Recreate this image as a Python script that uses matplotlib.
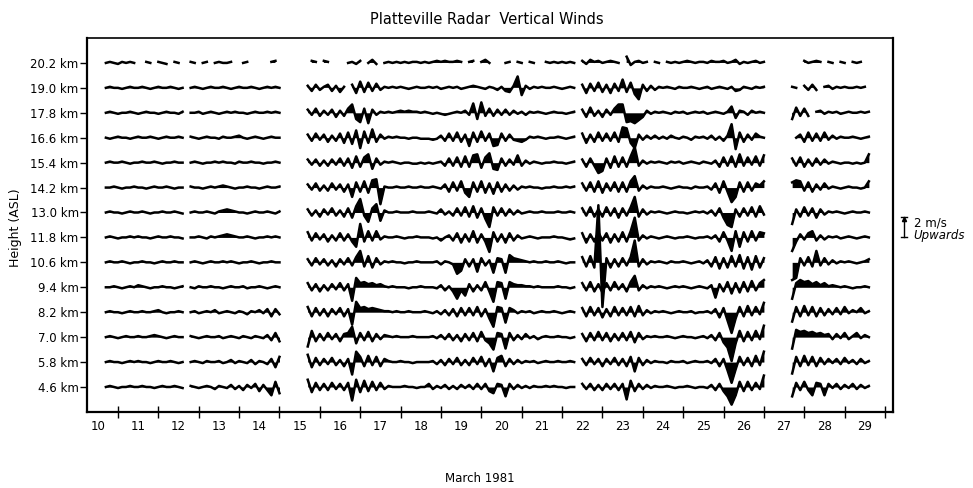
import numpy as np
import matplotlib
matplotlib.use("Agg")
import matplotlib.pyplot as plt

# heights of the range gates (km ASL), top to bottom
heights = [20.2, 19.0, 17.8, 16.6, 15.4, 14.2, 13.0, 11.8, 10.6, 9.4, 8.2, 7.0, 5.8, 4.6]
days = list(range(10, 30))          # March 1981, label sits in the middle of each day

# radar ran in 5 blocks; first sample of each block (day of March), samples every 0.1 day
run_start = [10.7, 12.8, 15.7, 22.5, 27.7]
dt = 0.1

# vertical wind per height, in tenths of m/s (upwards +), one list per block
N = None
w_202 = [[0,1,0,-1,1,0,1,0,N,N, 1,0,N,1,0,-1,N,1,0,N],
         [1,0,N,0,1,N,0,1,0,0, 1,N,N,0,1,N,N,N,N,N, 1,2,N],
         [N,2,1,N,2,1,N,N,N,N, 0,1,-1,2,N,0,3,-1,N,0, 1,0,1,0,1,0,1,1,0,1, 0,1,2,1,2,1,1,2,1,N,
          1,2,N,1,3,0,N,1,N,0, 1,N,1,0,N,1,0,N,N,1, 0,1,0,1,0,1,0],
         [2,-1,3,1,2,0,1,2,1,0, N,6,-2,1,2,0,1,N,1,0, N,1,0,1,0,1,2,1,0,1, 1,0,2,1,1,2,0,1,3,-1,
          1,0,1,2,0,1],
         [N,N,N,2,0,1,2,1,N,1, 0,N,1,0,N,1,0,1,N,N]]
w_190 = [[0,1,0,0,-1,0,1,0,0,1, 0,-1,0,1,0,0,1,0,-1,0],
         [0,1,0,-1,0,1,0,0,1,0, -1,0,1,0,0,1,0,-1,0,1, 0,1,0],
         [2,-3,3,-2,1,3,-3,2,-4,1, N,3,-5,6,-4,5,-3,4,-2,1, 0,1,0,1,0,-1,0,1,0,0, 1,0,1,-1,0,1,0,1,-1,0,
          1,2,1,0,-1,1,0,-2,1,-3, -4,2,11,-7,2,-1,1,0,1,0, 0,1,0,-1,0,1,0],
         [3,-5,4,-3,5,-4,3,-5,4,-3, 8,-4,5,-6,-11,3,-3,2,-2,1, 0,1,0,-1,1,0,0,1,0,-1, 0,1,-1,0,1,0,-1,1,-3,-2,
          1,0,-1,1,0,1],
         [1,0,N,2,-2,3,-2,N,1,2, -1,1,0,1,0,0,1,0,1,N]]
w_178 = [[0,1,0,-1,0,0,1,0,-1,0, 1,0,0,-1,0,1,0,0,-1,1],
         [0,0,1,-1,0,1,0,-1,0,1, 0,1,0,0,-1,0,1,0,0,1, 0,1,0],
         [3,-2,4,-3,2,-2,3,-4,2,-3, 4,8,-6,-9,4,-10,3,-2,1,0, 1,0,1,2,1,2,1,1,0,1, 0,-1,0,-1,-2,-1,0,1,0,2,
          -2,9,-6,10,-3,4,-3,3,-2,3, -2,2,-1,1,-2,1,0,1,0,-1, 0,1,0,0,-1,0,1],
         [3,-4,5,-3,2,-4,3,-2,4,8, 8,-9,-8,-10,-7,-4,2,-1,1,0, 1,0,-1,1,0,1,-1,0,1,0, 1,-1,0,1,0,-1,1,6,-5,2,
          1,-2,2,0,1,0],
         [-6,5,-3,4,-3,N,1,2,-1,1, 0,1,-1,0,1,0,0,1,0,1]]
w_166 = [[0,-1,0,1,0,0,-1,0,1,0, 0,1,0,-1,0,1,0,0,1,0],
         [1,0,-1,0,1,0,0,-1,1,0, 0,1,2,0,-1,0,1,0,-1,0, 1,0,0],
         [3,-3,4,-2,3,-4,2,-3,4,-5, 5,-6,7,-10,6,-5,8,-4,3,-1, 1,0,1,0,0,-1,0,0,-1,-1, -1,-2,-1,2,-3,4,-3,5,-4,3,
          -8,5,-4,6,-3,4,-8,-7,4,-3, 3,-2,-3,-4,-2,1,0,1,0,-1, 0,0,1,0,-1,0,1],
         [4,-5,3,-4,5,-3,4,-3,5,-4, 10,9,-5,-10,3,-2,2,-1,2,-1, 1,-1,2,0,-1,1,0,-2,1,0, 1,-1,2,-2,1,-3,2,13,-11,5,
          -4,3,-2,4,1,0],
         [N,0,3,-4,5,-3,4,-3,5,-2, 2,-1,1,0,0,1,0,-1,0,1]]
w_154 = [[0,1,0,0,1,0,-1,0,0,1, 0,0,1,0,-1,0,0,1,0,0],
         [0,1,0,-1,0,0,1,0,1,0, 0,-1,1,0,0,1,0,0,-1,0, 0,1,0],
         [3,-2,3,-3,2,-3,3,-2,4,-3, 4,-5,6,-4,5,8,-6,4,-2,1, 0,1,0,-1,0,0,-1,-1,0,-1, 0,-1,0,1,-3,4,-3,5,-4,6,
          -4,7,8,-5,5,9,-6,-7,4,-3, 3,-2,7,-3,2,-1,1,0,-1,0, 0,1,0,0,-1,0,1],
         [3,-4,4,-3,-10,-8,4,-5,6,-4, 5,-4,6,15,-3,2,-1,1,0,1, 0,-1,1,0,1,-1,0,1,0,-1, 1,0,-1,2,-4,5,-3,6,-4,8,
          -3,5,-2,6,-3,7],
         [4,-3,5,-4,3,-3,4,-2,3,-1, 1,0,-1,0,0,-1,0,-1,0,8]]
w_142 = [[0,0,1,0,-1,0,0,1,0,0, -1,0,1,0,0,1,0,-1,0,0],
         [1,0,0,-1,0,1,0,1,2,1, 0,-1,0,0,1,0,0,-1,0,1, 0,0,1],
         [3,-2,4,-3,2,-3,4,-2,3,-4, 3,-9,5,-4,6,-5,7,8,-16,1, 0,0,1,0,0,1,0,0,1,0, 0,1,0,-1,3,-4,5,-3,6,-5,
          -9,5,-4,6,-5,4,-6,5,-4,3, -3,2,-2,1,0,1,0,0,-1,0, 0,1,0,0,1,0,1],
         [4,-3,5,-4,6,-5,4,-3,5,-4, 5,-4,6,11,-3,2,-1,1,0,0, 1,0,-1,0,1,0,0,-1,1,0, 0,1,-2,4,-5,6,-4,-14,-9,5,
          -4,5,-3,4,2,6],
         [5,7,6,-3,5,-4,3,-2,4,-1, 1,0,-1,0,1,0,0,-1,0,6]]
w_130 = [[0,1,0,0,-1,0,1,0,0,1, 0,-1,0,0,1,0,0,1,0,-1],
         [0,1,0,0,1,0,-1,1,2,3, 2,1,0,0,-1,0,1,0,0,1, 0,-1,1],
         [3,-3,2,-4,3,-2,4,-3,2,-4, 4,-5,6,13,-3,-9,4,8,-8,2, 0,0,1,0,0,0,1,0,0,0, 1,0,-1,3,-2,1,-3,4,-3,5,
          -4,6,-5,4,-6,-14,5,-3,4,-3, 3,-2,2,-1,0,1,0,0,1,0, 0,0,1,0,0,1,0],
         [4,-3,5,-4,3,-4,5,-3,4,-5, 4,-3,5,15,-4,3,-2,1,0,1, 0,-1,0,1,0,0,-1,0,1,0, 1,-1,2,-3,4,-5,-12,-14,3,-4,
          4,-3,5,-4,6,-2],
         [-11,3,-4,5,-3,4,-5,3,-2,1, 0,1,0,-1,0,1,0,0,1,0]]
w_118 = [[0,1,0,-1,0,0,1,0,1,0, 0,-1,0,1,0,0,1,0,0,-1],
         [0,0,1,0,-1,1,0,1,2,3, 2,1,0,0,1,0,-1,0,0,1, 0,1,0],
         [5,-3,4,-2,3,-4,2,-3,4,-3, 3,-4,-9,13,-4,6,-3,6,-2,1, 0,0,1,0,-1,0,0,1,0,0, 0,-1,0,-3,0,2,-3,4,-5,3,
          -4,6,-5,3,-4,-14,5,-4,3,-5, 4,-3,2,-1,0,1,0,-1,0,0, 0,1,0,0,-1,-2,-1],
         [4,-5,3,-4,5,-3,4,-5,3,-4, 5,-4,6,19,-3,2,-1,1,0,-1, 0,1,0,-1,0,0,1,0,-1,0, 0,1,-1,2,-4,5,-3,-13,6,-9,
          5,-4,6,-3,5,4],
         [-13,-4,3,-2,4,6,-3,2,-2,1, 0,1,-1,0,1,0,-1,0,1,0]]
w_106 = [[0,1,0,0,1,0,-1,0,0,1, 0,0,-1,0,1,0,0,1,0,0],
         [0,1,0,-1,0,1,0,0,1,0, 1,0,-1,0,0,1,0,-1,0,0, 1,0,0],
         [3,-3,4,-2,3,-3,2,-4,3,-2, 4,-3,5,11,-4,6,-5,4,-2,1, 0,1,0,0,-1,0,0,1,0,0, 0,0,1,-2,1,0,-2,-11,-8,3,
          -4,3,-9,4,-3,2,-10,4,3,-10, 7,4,3,2,1,0,1,0,0,1, 0,0,1,0,-1,0,0],
         [5,-4,6,-5,55,-43,4,-5,3,-4, 4,-3,5,21,-4,3,-2,1,0,1, 0,-1,1,0,0,1,0,-1,0,1, -1,2,-4,5,-6,4,-5,6,-4,7,
          -6,5,-7,6,-5,4],
         [-17,-15,4,-3,5,-4,11,-3,4,-2, 2,-1,1,0,1,0,-1,0,1,3]]
w_094 = [[0,0,1,0,-1,0,1,0,2,1, 0,-1,0,0,1,0,0,-1,0,1],
         [0,-1,1,0,0,1,0,0,-1,0, 1,0,0,1,-1,0,0,1,0,-1, 0,1,0],
         [4,-3,3,-4,2,-3,3,-2,4,-3, 3,-13,9,4,5,3,4,2,3,1, 0,1,0,0,0,-1,0,0,1,0, 0,0,-1,2,-3,1,-4,-11,-3,-8,
          3,-4,2,-3,5,-4,-14,5,4,-11, 5,3,2,2,1,1,0,1,0,0, 0,0,1,0,0,-1,0],
         [4,-3,5,-4,3,-5,4,-3,5,-2, 3,-4,5,11,-3,2,-1,1,0,1, 0,-1,0,1,0,1,0,-1,0,1, 0,-1,2,-10,3,-4,5,-6,4,-5,
          5,-4,6,-3,4,7],
         [-11,4,7,5,6,3,5,2,4,1, 2,1,0,1,0,-1,0,0,1,0]]
w_082 = [[0,1,0,0,-1,0,1,0,0,1, 0,0,1,2,0,-1,0,0,1,0],
         [0,1,-1,0,1,0,2,-1,0,1, 0,-1,1,0,-2,1,0,2,-1,3, -4,3,-2],
         [5,-4,4,-3,3,-4,3,-2,4,-4, 3,-12,10,4,5,3,4,3,2,1, 1,0,1,0,0,1,0,0,0,1, 0,-1,1,-2,2,-3,3,-4,4,-3,
          4,-3,5,-4,3,-6,-14,5,4,-10, 4,2,-1,1,0,1,-1,0,1,0, 0,1,0,-1,0,1,0],
         [4,-4,5,-3,4,-5,3,-4,5,-3, 4,-3,5,-4,6,-3,2,-1,1,0, 1,0,-1,0,1,0,0,1,-1,0, 0,1,-1,3,-5,4,-8,-20,-6,5,
          -4,6,-3,5,-2,9],
         [-9,5,-4,6,-3,5,-4,4,-3,3, -2,4,-2,5,-1,2,0,4,-1,1]]
w_070 = [[0,1,0,-1,0,1,0,0,1,0, 0,1,2,1,0,-1,0,1,0,0],
         [1,0,-1,0,1,0,0,1,-1,0, 1,0,-1,1,0,-1,1,0,-1,2, -3,4,-4],
         [-9,6,-4,3,-3,4,-2,3,-4,3, 4,10,-6,4,-3,5,-4,3,-2,2, 1,0,1,0,0,0,1,0,0,0, 0,1,-1,2,-2,3,-3,2,-4,3,
          -3,4,-4,5,-3,-6,-12,4,3,-11, 4,-3,2,-2,3,-1,1,-2,0,1, 0,0,1,0,0,-1,0],
         [3,-4,4,-3,5,-3,4,-4,3,-3, 4,-3,5,-5,4,-2,1,0,1,0, 0,1,0,-1,0,1,0,0,-1,0, 1,-1,2,-3,4,-5,-10,-23,-6,6,
          -4,5,-3,6,-2,11],
         [-11,7,5,6,4,5,3,4,2,3, -2,3,-1,4,-2,1,4,-1,2,0]]
w_058 = [[0,1,0,0,-1,0,1,0,1,0, 0,-1,0,1,0,0,1,0,-1,0],
         [0,1,0,-1,1,0,0,1,-1,0, 2,-1,1,0,-1,2,-2,1,0,-2, 3,-5,5],
         [7,-5,4,-3,3,-2,4,-3,2,-4, 3,-12,10,5,-4,6,-3,5,-4,3, 1,0,0,1,0,0,-1,0,0,0, 0,1,-2,2,-3,3,-2,4,-3,2,
          -3,4,-2,5,-4,3,-9,4,6,-4, 3,-2,2,-1,1,0,1,-1,0,1, 0,0,1,0,0,1,0],
         [3,-3,4,-2,3,-4,3,-2,4,-3, 3,-4,5,-9,4,-3,2,-1,1,0, 0,-1,1,0,0,1,-1,0,1,0, 0,1,-1,3,-4,3,-8,-20,-7,5,
          -3,4,-4,6,-3,10],
         [-11,5,-4,6,-3,5,-4,4,-2,3, -1,3,-2,4,-1,2,-2,3,-1,1]]
w_046 = [[0,1,0,-1,0,0,1,0,0,1, 0,0,-1,0,1,0,0,1,0,-1],
         [1,0,-1,0,1,0,-2,1,0,-1, 2,-2,1,-3,2,-1,3,-4,2,-3, -8,5,-6],
         [7,-5,4,-3,3,-3,4,-2,3,-3, 4,-13,7,-5,6,-4,5,-3,4,-2, 1,0,0,0,1,0,0,-1,0,0, 3,-2,1,-1,2,-2,1,-2,2,-1,
          2,-2,3,-2,3,-4,-6,3,2,-9, 3,-2,2,-1,1,-1,1,0,0,1, 0,1,0,0,-1,0,0],
         [3,-2,3,-3,2,-3,3,-2,3,-3, 3,-12,6,-4,3,-2,2,-1,1,0, 0,1,0,-1,0,0,1,0,-1,0, 0,-1,2,-3,3,-4,-9,-17,-8,5,
          -4,5,-3,4,-2,11],
         [-9,4,-3,5,-3,-8,4,3,-8,3, -1,3,-2,2,-1,3,-2,2,-1,1]]

traces = [w_202, w_190, w_178, w_166, w_154, w_142, w_130,
          w_118, w_106, w_094, w_082, w_070, w_058, w_046]

KM_PER_MS = 0.5   # plotting scale: 1 m/s of wind drawn as 0.5 km of height

fig = plt.figure(figsize=(9.73, 4.88), dpi=100)
ax = fig.add_axes([87/973, 1-412/488, (893-87)/973, (412-38)/488])

for h, runs in zip(heights, traces):
    for t0, vals in zip(run_start, runs):
        w = np.array(vals, dtype=float) * 0.1
        t = t0 + dt * np.arange(len(w))
        y = h + KM_PER_MS * w
        # shade between trace and its zero line so busy stretches read as a dark band
        ax.fill_between(t, h, y, color='black', lw=0)
        ax.plot(t, y, color='black', lw=1.8)

ax.set_xlim(10.232, 30.198)
ax.set_ylim(3.396, 21.40)

ax.set_yticks(heights)
ax.set_yticklabels([f"{h:.1f} km" for h in heights])
ax.tick_params(axis='y', direction='out', length=5, width=1, labelsize=8.5, pad=1)

ax.set_xticks(np.arange(11, 31))
ax.set_xticklabels([])
ax.tick_params(axis='x', which='major', direction='inout', length=8, width=1)
ax.set_xticks([d + 0.5 for d in days], minor=True)
ax.set_xticklabels([str(d) for d in days], minor=True)
ax.tick_params(axis='x', which='minor', length=0, labelsize=8.5, pad=6)

for s in ax.spines.values():
    s.set_linewidth(1.6)
ax.spines['top'].set_linewidth(1.2)

# 2 m/s scale bar, drawn off the 11.8 km trace
xb = 30.47
y0, y1 = 11.8, 11.8 + 2 * KM_PER_MS
ax.plot([xb, xb], [y0, y1], color='black', lw=1, clip_on=False)
ax.plot([xb - 0.07, xb + 0.07], [y0, y0], color='black', lw=1, clip_on=False)
ax.plot([xb - 0.07, xb + 0.07], [y1, y1], color='black', lw=1, clip_on=False)
ax.plot([xb], [y1 - 0.12], marker='^', ms=3, color='black', clip_on=False)
ax.text(30.73, 12.50, "2 m/s", fontsize=8.5, va='center', ha='left')
ax.text(30.70, 11.87, "Upwards", fontsize=8.5, va='center', ha='left', style='italic')

fig.text(487/973, 1-20/488, "Platteville Radar  Vertical Winds", fontsize=10.5, ha='center', va='center')
fig.text(16/973, 1-228/488, "Height (ASL)", fontsize=9, rotation=90, ha='center', va='center')
fig.text(480/973, 1-479/488, "March 1981", fontsize=8.5, ha='center', va='center')

fig.savefig("out.png", dpi=100)
